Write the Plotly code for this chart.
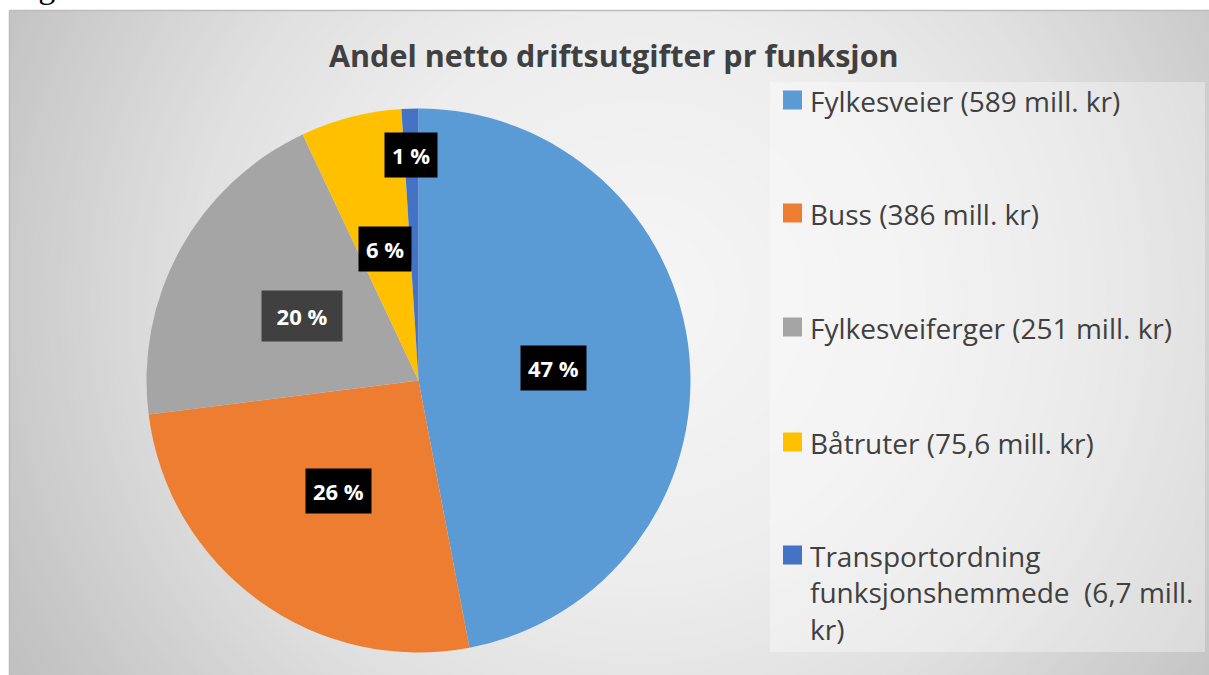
import math
import plotly.graph_objects as go

# ---- data -------------------------------------------------------------
categories = [
    "Fylkesveier (589 mill. kr)",
    "Buss (386 mill. kr)",
    "Fylkesveiferger (251 mill. kr)",
    "Båtruter (75,6 mill. kr)",
    "Transportordning<br>funksjonshemmede\u00a0 (6,7 mill.<br>kr)",
]
shares = [47, 26, 20, 6, 1]          # per cent of net operating expenses
colors = ["#5B9BD5", "#ED7D31", "#A5A5A5", "#FFC000", "#4472C4"]

title_text = "Andel netto driftsutgifter pr funksjon"
caption_text = "Figur 6.1"

# ---- page geometry (pixels) -------------------------------------------
W, H = 1209, 675
CX, CY, R = 418.5, 380.5, 272       # pie centre and radius
FX0, FY0 = 9.5, 10.5                # top-left corner of the chart area


def fx(px):
    return px / W


def fy(py):
    return 1 - py / H


shapes = []
annotations = []

# ---- background: radial grey gradient built from concentric discs ------
GX, GY, GR = 640, 300, 700          # gradient centre and reference radius
grad_stops = [(0.0, 246), (0.4, 237), (0.65, 224), (1.0, 195), (1.1, 190)]


def grey_at(t):
    for (t0, g0), (t1, g1) in zip(grad_stops, grad_stops[1:]):
        if t <= t1:
            return g0 + (g1 - g0) * max(0.0, t - t0) / (t1 - t0)
    return grad_stops[-1][1]


for rad in range(760, 0, -6):
    g = round(grey_at(rad / GR))
    shapes.append(dict(
        type="circle", xref="paper", yref="paper", layer="below",
        x0=fx(GX - rad), x1=fx(GX + rad), y0=fy(GY + rad), y1=fy(GY - rad),
        fillcolor=f"rgb({g},{g},{g})", line=dict(width=0),
    ))

# white page margins above and left of the chart area
shapes.append(dict(
    type="rect", xref="paper", yref="paper", layer="below",
    x0=-0.05, x1=1.05, y0=fy(FY0), y1=1.05,
    fillcolor="white", line=dict(width=0),
))
shapes.append(dict(
    type="rect", xref="paper", yref="paper", layer="below",
    x0=-0.05, x1=fx(FX0), y0=-0.05, y1=1.05,
    fillcolor="white", line=dict(width=0),
))
# chart frame edges (top and left)
for x0, y0, x1, y1 in [(FX0, FY0, W + 20, FY0), (FX0, FY0, FX0, H + 20)]:
    shapes.append(dict(
        type="line", xref="paper", yref="paper", layer="below",
        x0=fx(x0), y0=fy(y0), x1=fx(x1), y1=fy(y1),
        line=dict(color="#bcbcbc", width=1.5),
    ))

fig = go.Figure()

fig.add_trace(go.Pie(
    labels=categories,
    values=shares,
    sort=False,
    direction="clockwise",
    rotation=0,
    marker=dict(colors=colors, line=dict(width=0)),
    textinfo="none",
    showlegend=False,
    domain=dict(x=[fx(CX - R), fx(CX + R)], y=[fy(CY + R), fy(CY - R)]),
))

# ---- percentage labels in boxes, placed along each slice's mid angle ---
label_radius = [0.5, 0.5, 0.49, 0.5, 0.83]
label_bg = ["#000000", "#000000", "#404040", "#000000", "#000000"]
label_box = [None, None, (66, 36), None, None]
total = sum(shares)
cum = 0
for i, v in enumerate(shares):
    theta = math.radians((cum + v / 2) / total * 360)
    cum += v
    px = CX + label_radius[i] * R * math.sin(theta)
    py = CY - label_radius[i] * R * math.cos(theta)
    ann = dict(
        x=fx(px), y=fy(py), xref="paper", yref="paper",
        text=f"{v} %", showarrow=False,
        font=dict(family="Open Sans", size=22, color="white", weight="bold"),
        bgcolor=label_bg[i], borderpad=7,
        xanchor="center", yanchor="middle",
    )
    if label_box[i]:
        ann["width"], ann["height"] = label_box[i]
    annotations.append(ann)

# ---- legend -----------------------------------------------------------
shapes.append(dict(
    type="rect", xref="paper", yref="paper", layer="below",
    x0=fx(770), x1=fx(1205), y0=fy(652), y1=fy(82),
    fillcolor="rgba(255,255,255,0.35)", line=dict(width=0),
))
legend_rows = [100, 213, 327, 442, 555]
for i, name in enumerate(categories):
    yc = legend_rows[i]
    shapes.append(dict(
        type="rect", xref="paper", yref="paper",
        x0=fx(783), x1=fx(802), y0=fy(yc + 9.5), y1=fy(yc - 9.5),
        fillcolor=colors[i], line=dict(width=0),
    ))
    annotations.append(dict(
        x=fx(808), y=fy(yc - 20), xref="paper", yref="paper",
        text=name, showarrow=False, align="left",
        xanchor="left", yanchor="top",
        font=dict(family="Open Sans", size=28, color="#404040"),
    ))

# title
annotations.append(dict(
    x=fx(614), y=fy(55), xref="paper", yref="paper",
    text=title_text, showarrow=False, xanchor="center", yanchor="middle",
    font=dict(family="Open Sans", size=30.5, color="#404040", weight="bold"),
))

# figure caption above the chart box (runs off the top of the page)
annotations.append(dict(
    x=fx(9), y=fy(6), xref="paper", yref="paper",
    text=caption_text, showarrow=False, xanchor="left", yanchor="bottom",
    borderpad=0,
    font=dict(family="Liberation Serif", size=34, color="black"),
))

fig.update_layout(
    width=W, height=H,
    margin=dict(l=0, r=0, t=0, b=0),
    # grey page colour so the chart area continues to the bottom edge
    paper_bgcolor="#d6d6d6",
    plot_bgcolor="#d6d6d6",
    shapes=shapes,
    annotations=annotations,
)

# any page area below the figure takes the same grey as the chart area
fig.write_html(
    "out.html",
    post_script="document.body.style.margin='0';"
                "document.body.style.background='#d6d6d6';",
)
